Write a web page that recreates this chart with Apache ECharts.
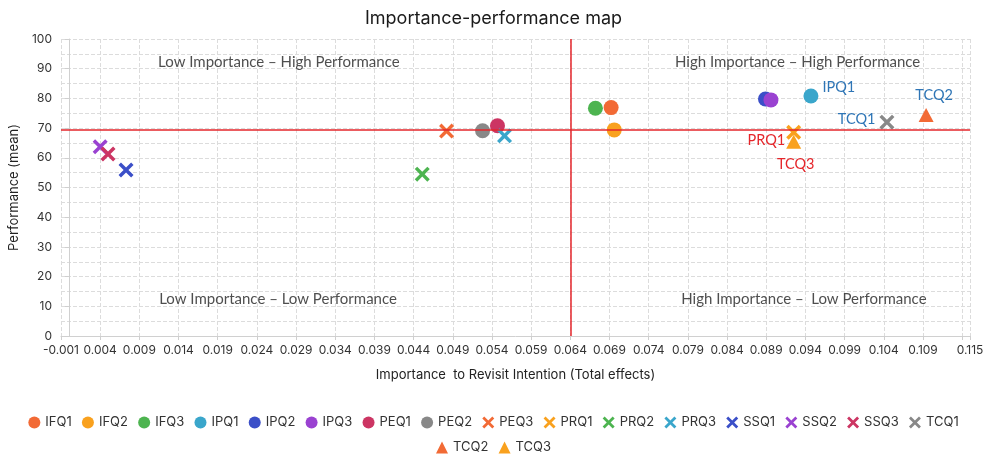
<!DOCTYPE html>
<html>
<head>
<meta charset="utf-8">
<script src="https://cdn.jsdelivr.net/npm/echarts@6/dist/echarts.min.js"></script>
<style>html,body{margin:0;padding:0;background:#fff;}#c{width:987px;height:454px;}</style>
</head>
<body>
<div id="c"></div>
<script>
// ---- data ----
const seriesNames = ['IFQ1','IFQ2','IFQ3','IPQ1','IPQ2','IPQ3','PEQ1','PEQ2','PEQ3','PRQ1','PRQ2','PRQ3','SSQ1','SSQ2','SSQ3','TCQ1','TCQ2','TCQ3'];
const importance  = [0.0692,0.0696,0.0672,0.0947,0.0889,0.0896,0.0547,0.0528,0.0482,0.0925,0.0451,0.0556,0.0073,0.0040,0.0050,0.1044,0.1094,0.0925];
const performance = [76.9,69.4,76.7,80.8,79.8,79.5,70.8,69.1,69.0,68.6,54.5,67.4,55.9,63.7,61.3,72.0,74.4,65.4];
const labelledPoints = ['IPQ1','TCQ2','TCQ1','PRQ1','TCQ3'];
const refImportance = 0.064;
const refPerformance = 69.3;
const quadrantTexts = ['Low Importance \u2013 High Performance','Low Importance \u2013 Low Performance','High Importance \u2013 High Performance','High Importance \u2013  Low Performance'];
const quadrantX = [0.0268, 0.0267, 0.0930, 0.0938];
const quadrantY = [92.2, 12.5, 92.2, 12.5];
const xMin = -0.001, xMax = 0.115, xStep = 0.005;
const yMin = 0, yMax = 100, yStep = 10;

// ---- styles ----
const colors = ['#F26A35','#F9A11E','#4DB450','#3AA6CB','#3B4FC8','#9A42D1','#CC3563','#888888','#F26A35','#F9A11E','#4DB450','#3AA6CB','#3B4FC8','#9A42D1','#CC3563','#888888','#F26A35','#F9A11E'];
const XPATH = 'path://M2.6,0 L8,5.4 L13.4,0 L16,2.6 L10.6,8 L16,13.4 L13.4,16 L8,10.6 L2.6,16 L0,13.4 L5.4,8 L0,2.6 Z';
function symbolFor(name){
  if (name === 'TCQ2' || name === 'TCQ3') return 'triangle';
  const idx = seriesNames.indexOf(name);
  return idx <= 7 ? 'circle' : XPATH;
}
const labelStyle = {
  IPQ1: {color:'#2E75B6', position:'right', offset:[-1,-9]},
  TCQ2: {color:'#2E75B6', position:'top', offset:[8,0]},
  TCQ1: {color:'#2E75B6', position:'left', offset:[1,-3]},
  PRQ1: {color:'#E5262B', position:'left', offset:[4,8]},
  TCQ3: {color:'#E5262B', position:'bottom', offset:[2,3]}
};

const series = seriesNames.map((n,i) => {
  const sym = symbolFor(n);
  const s = {
    name: n, type:'scatter',
    data: [[importance[i], performance[i]]],
    symbol: sym,
    symbolSize: sym === 'circle' ? 15 : (sym === 'triangle' ? [15,14] : 15),
    itemStyle: {color: colors[i], opacity: 1},
    z: 3
  };
  if (labelledPoints.includes(n)) {
    const ls = labelStyle[n];
    s.label = {show:true, formatter: n, position: ls.position, offset: ls.offset,
      color: ls.color, fontFamily:'Lato', fontSize:14.5};
  }
  return s;
});

series.push({
  name:'quadrants', type:'scatter', symbolSize:0, silent:true, z:1,
  data: quadrantTexts.map((t,i)=>({value:[quadrantX[i], quadrantY[i]], name:t})),
  label:{show:true, position:'inside', formatter: p => p.name, color:'#222', fontFamily:'Lato', fontSize:15},
  markLine:{
    silent:true, symbol:'none', animation:false, precision:6,
    label:{show:false},
    lineStyle:{color:'#E5262B', width:1.5, type:'solid'},
    data:[{xAxis: refImportance},{yAxis: refPerformance}]
  }
});

const legendFirst = seriesNames.slice(0,16);
const legendSecond = seriesNames.slice(16);
const legendBase = {
  left:'center', itemWidth:12, itemHeight:12, itemGap:10.2,
  textStyle:{fontFamily:'Inter', fontSize:13, color:'#333'}
};

const chart = echarts.init(document.getElementById('c'));
chart.setOption({
  animation:false,
  backgroundColor:'#fff',
  title:{
    text:'Importance-performance map', left:'center', top:5,
    textStyle:{fontFamily:'Inter', fontSize:18, fontWeight:'normal', color:'#1a1a1a'}
  },
  legend:[
    Object.assign({}, legendBase, {data: legendFirst, top:411}),
    Object.assign({}, legendBase, {data: legendSecond, top:436})
  ],
  grid:{left:61, right:17, top:39, bottom:118, containLabel:false},
  xAxis:{
    type:'value', min:xMin, max:xMax, interval:xStep,
    name:'Importance  to Revisit Intention (Total effects)', nameLocation:'middle', nameGap:33,
    nameTextStyle:{fontFamily:'Inter', fontSize:13, color:'#222'},
    axisLine:{show:true, lineStyle:{color:'#d0d0d0'}},
    axisTick:{show:true, length:4, lineStyle:{color:'#cfcfcf'}},
    axisLabel:{fontFamily:'Inter', fontSize:12, color:'#333', margin:8,
      formatter: v => { const r = Math.round(v*1000)/1000; if (Math.abs(r-0.114) < 1e-9) return ''; return r.toFixed(3); }},
    splitLine:{show:true, lineStyle:{color:'#dcdcdc', type:'dashed', width:1}}
  },
  yAxis:{
    type:'value', min:yMin, max:yMax, interval:yStep,
    name:'Performance (mean)', nameLocation:'middle', nameGap:35, nameRotate:90,
    nameTextStyle:{fontFamily:'Inter', fontSize:13, color:'#222'},
    axisLine:{show:true, lineStyle:{color:'#d0d0d0'}},
    axisTick:{show:true, length:4, lineStyle:{color:'#cfcfcf'}},
    axisLabel:{fontFamily:'Inter', fontSize:12, color:'#333', margin:9},
    splitLine:{show:true, lineStyle:{color:'#dcdcdc', type:'dashed', width:1}},
    minorTick:{show:false, splitNumber:2},
    minorSplitLine:{show:true, lineStyle:{color:'#dcdcdc', type:'dashed', width:1}}
  },
  series: series
});
</script>
</body>
</html>
